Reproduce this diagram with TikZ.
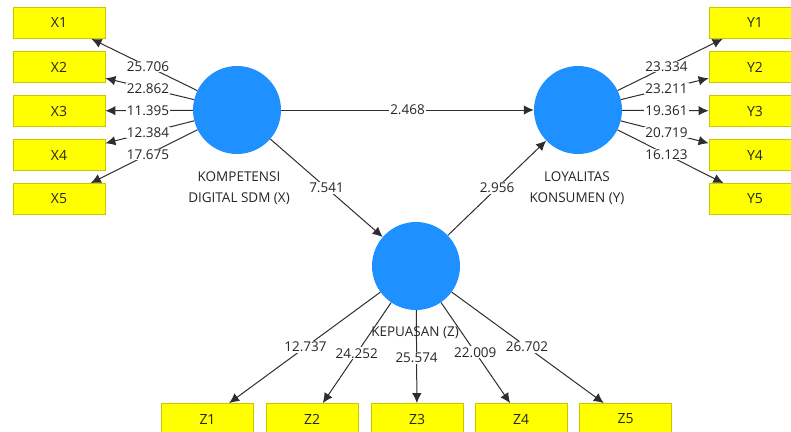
\documentclass[tikz,border=0pt]{standalone}
\usepackage{fontspec}
\setmainfont{Open Sans}
\usetikzlibrary{arrows.meta,calc}
\definecolor{latent}{HTML}{1E90FF}
\definecolor{indfill}{HTML}{FFFF00}
\definecolor{indline}{HTML}{C8C800}
\definecolor{edge}{HTML}{2E2E2E}
\definecolor{txt}{HTML}{262626}
\begin{document}
\begin{tikzpicture}[x=1pt,y=-1pt,
  latentnode/.style={circle,fill=latent,minimum size=88pt,inner sep=0pt},
  ind/.style={rectangle,fill=indfill,draw=indline,line width=0.8pt,
    minimum width=92pt,minimum height=31pt,text=txt,
    font=\fontsize{14}{16}\selectfont},
  link/.style={draw=edge,line width=1pt,-{Latex[length=10pt,width=9.5pt]}},
  val/.style={fill=white,inner sep=1pt,text=txt,font=\fontsize{13.5}{15}\selectfont},
  captxt/.style={align=center,text=txt,font=\fontsize{13.5}{21}\selectfont}]
\useasboundingbox (0,0) rectangle (791,431);
\clip (0,0) rectangle (791,431);

% latent variables
\node[latentnode] (X) at (237,110) {};
\node[latentnode] (Y) at (578,110) {};
\node[latentnode] (Z) at (416,266) {};

% indicator boxes
\foreach \i/\y in {1/23,2/67,3/111,4/155,5/199}{
  \node[ind] (x\i) at (59,\y) {X\i};
  \node[ind] (y\i) at (755,\y) {Y\i};
}
\foreach \i/\x in {1/207.5,2/312,3/417,4/521,5/625.5}{
  \node[ind] (z\i) at (\x,419) {Z\i};
}

% captions
\node[captxt] (capX) at (239,188.5) {KOMPETENSI\\DIGITAL SDM (X)};
\node[captxt] (capY) at (577,188.5) {LOYALITAS\\KONSUMEN (Y)};

% outer model connectors
\foreach \i in {1,...,5}{
  \draw[link] (X) -- (x\i);
  \draw[link] (Y) -- (y\i);
  \draw[link] (Z) -- (z\i);
}
% inner model connectors
\draw[link] (X) -- (Y);
\draw[link] (X) -- (Z);
\draw[link] (Z) -- (Y);

\node[captxt] (capZ) at (415,333) {KEPUASAN (Z)};

% path coefficients / t-values
\node[val] at ($(X)!0.5!(x1)$) {25.706};
\node[val] at ($(X)!0.5!(x2)$) {22.862};
\node[val] at ($(X)!0.5!(x3)$) {11.395};
\node[val] at ($(X)!0.5!(x4)$) {12.384};
\node[val] at ($(X)!0.5!(x5)$) {17.675};

\node[val] at ($(Y)!0.5!(y1)$) {23.334};
\node[val] at ($(Y)!0.5!(y2)$) {23.211};
\node[val] at ($(Y)!0.5!(y3)$) {19.361};
\node[val] at ($(Y)!0.5!(y4)$) {20.719};
\node[val] at ($(Y)!0.5!(y5)$) {16.123};

\node[val] at ($(Z)!0.53!(z1)$) {12.737};
\node[val] at ($(Z)!0.57!(z2)$) {24.252};
\node[val] at ($(Z)!0.60!(z3)$) {25.574};
\node[val] at ($(Z)!0.565!(z4)$) {22.009};
\node[val] at ($(Z)!0.53!(z5)$) {26.702};

\node[val] at ($(X)!0.5!(Y)$) {2.468};
\node[val] at ($(X)!0.5!(Z)$) {7.541};
\node[val] at ($(Z)!0.5!(Y)$) {2.956};
\end{tikzpicture}
\end{document}
